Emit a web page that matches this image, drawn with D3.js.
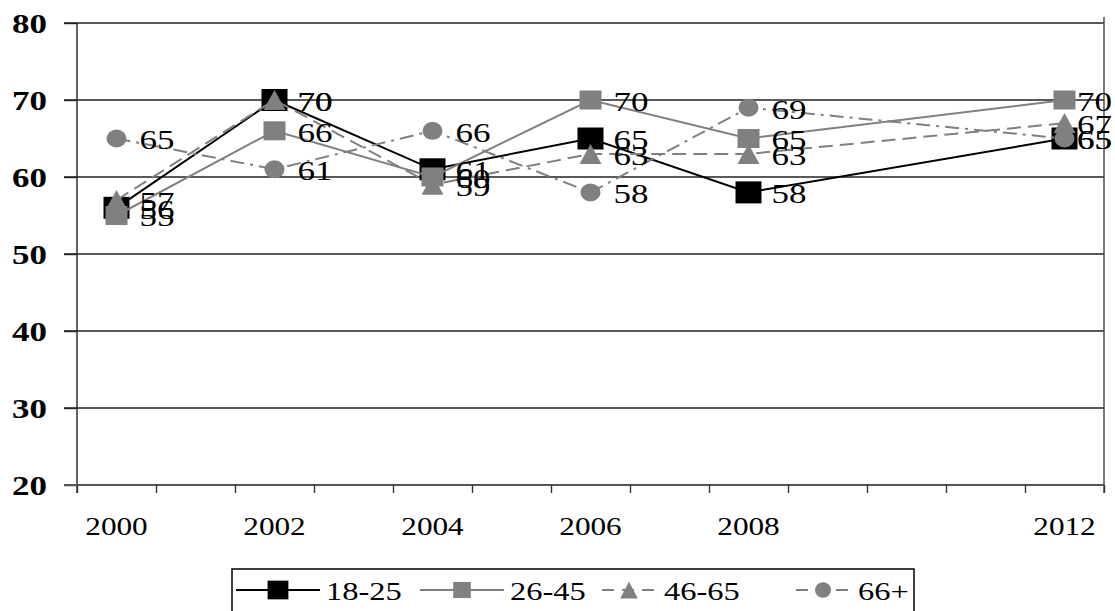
<!DOCTYPE html>
<html>
<head>
<meta charset="utf-8">
<script src="https://cdn.jsdelivr.net/npm/d3@7"></script>
<style>
  html, body { margin: 0; padding: 0; background: #fff; }
  svg { display: block; }
</style>
</head>
<body>
<script>
// data
const years = [2000, 2002, 2004, 2006, 2008, 2012]
const groups = ['18-25', '26-45', '46-65', '66+']
const v1825 = [56, 70, 61, 65, 58, 65]
const v2645 = [55, 66, 60, 70, 65, 70]
const v4665 = [57, 70, 59, 63, 63, 67]
const v66 = [65, 61, 66, 58, 69, 65]
const yTicks = [20, 30, 40, 50, 60, 70, 80]

const width = 1115
const height = 611
const stretch = 1.3 // text in the picture is stretched sideways
const font = '"Liberation Serif", "Times New Roman", serif'
const gray = '#808080'

const series = [
  { name: groups[0], values: v1825, color: '#000', dash: null, marker: 'square', mw: 26, mh: 22 },
  { name: groups[1], values: v2645, color: gray, dash: null, marker: 'square', mw: 22, mh: 19 },
  { name: groups[2], values: v4665, color: gray, dash: '14,7', marker: 'triangle', mw: 22, mh: 20 },
  { name: groups[3], values: v66, color: gray, dash: '14,6,3,6', marker: 'circle', mw: 20, mh: 18 },
]

const x = d3.scaleLinear().domain([1999.5, 2012.5]).range([77, 1104])
const y = d3.scaleLinear().domain([20, 80]).range([485, 23])

const svg = d3.select('body').append('svg')
  .attr('width', width)
  .attr('height', height)

const sText = (g, px, py, txt, opts = {}) => g.append('text')
  .attr('transform', `translate(${px},${py}) scale(${opts.sx || stretch},1)`)
  .attr('text-anchor', opts.anchor || 'start')
  .attr('dy', opts.dy || '0.35em')
  .style('font-family', font)
  .style('font-size', `${opts.size || 26}px`)
  .style('font-weight', opts.weight || 'normal')
  .attr('fill', '#000')
  .text(txt)

// gridlines
const grid = svg.append('g')
grid.selectAll('line')
  .data(yTicks.filter(d => d > 20))
  .join('line')
  .attr('x1', 64)
  .attr('x2', 1104)
  .attr('y1', d => y(d))
  .attr('y2', d => y(d))
  .attr('stroke', '#222')
  .attr('stroke-width', 1.4)

// y axis
const yAxis = svg.append('g')
  .attr('transform', 'translate(77,0)')
  .call(d3.axisLeft(y).tickValues(yTicks).tickSize(13).tickFormat(''))
yAxis.select('.domain').remove()
yAxis.selectAll('.tick line').attr('stroke', '#222').attr('stroke-width', 1.4)
svg.append('line')
  .attr('x1', 77).attr('x2', 77)
  .attr('y1', y(80)).attr('y2', y(20) + 8)
  .attr('stroke', '#222').attr('stroke-width', 1.4)
svg.append('line')
  .attr('x1', 1104).attr('x2', 1104)
  .attr('y1', y(80) - 6).attr('y2', y(20) + 8)
  .attr('stroke', '#444').attr('stroke-width', 1.4)

yTicks.forEach(t => sText(svg, 47, y(t), t, { anchor: 'end', weight: 'bold', size: 28, sx: 1.25 }))

// x axis with marks at year boundaries
const xAxis = svg.append('g')
  .attr('transform', `translate(0,${y(20)})`)
  .call(d3.axisBottom(x).tickValues(d3.range(1999.5, 2013, 1)).tickSize(8).tickFormat(''))
xAxis.select('.domain')
  .attr('d', `M64,0H1104`)
  .attr('stroke', '#555')
  .attr('stroke-width', 2)
xAxis.selectAll('.tick line').attr('stroke', '#333').attr('stroke-width', 1.4)

years.forEach(yr => sText(svg, x(yr), 526, yr, { anchor: 'middle', size: 25, sx: 1.25 }))

// marker drawing
const drawMarker = (g, s, cx, cy, w, h) => {
  if (s.marker === 'square') {
    g.append('rect')
      .attr('x', cx - w / 2).attr('y', cy - h / 2)
      .attr('width', w).attr('height', h)
      .attr('fill', s.color)
  } else if (s.marker === 'triangle') {
    g.append('path')
      .attr('d', `M${cx},${cy - h / 2}L${cx + w / 2},${cy + h / 2}L${cx - w / 2},${cy + h / 2}Z`)
      .attr('fill', s.color)
  } else {
    g.append('ellipse')
      .attr('cx', cx).attr('cy', cy)
      .attr('rx', w / 2).attr('ry', h / 2)
      .attr('fill', s.color)
  }
}

const line = d3.line()
  .x((d, i) => x(years[i]))
  .y(d => y(d))

const plot = svg.append('g')
series.forEach(s => {
  plot.append('path')
    .datum(s.values)
    .attr('d', line)
    .attr('fill', 'none')
    .attr('stroke', s.color)
    .attr('stroke-width', 2)
    .attr('stroke-dasharray', s.dash)
  s.values.forEach((v, i) => drawMarker(plot, s, x(years[i]), y(v), s.mw, s.mh))
})

// data labels, pulled back in when they would run past the picture edge
const labels = svg.append('g')
series.forEach(s => {
  s.values.forEach((v, i) => {
    const t = sText(labels, x(years[i]) + 23, y(v) + 1, v, { size: 28, sx: 1.25 })
    const w = t.node().getComputedTextLength() * 1.25
    const px = Math.min(x(years[i]) + 23, width - 3 - w)
    t.attr('transform', `translate(${px},${y(v) + 1}) scale(1.25,1)`)
  })
})

// legend
const legend = svg.append('g')
legend.append('rect')
  .attr('x', 232).attr('y', 569)
  .attr('width', 682).attr('height', 50)
  .attr('fill', 'none')
  .attr('stroke', '#000')
  .attr('stroke-width', 1.5)

const legendItems = [
  { x0: 236, x1: 320, tx: 326 },
  { x0: 420, x1: 504, tx: 510 },
  { x0: 602, x1: 656, tx: 664 },
  { x0: 796, x1: 850, tx: 858 },
]
series.forEach((s, i) => {
  const it = legendItems[i]
  const ly = 590
  legend.append('line')
    .attr('x1', it.x0).attr('x2', it.x1)
    .attr('y1', ly).attr('y2', ly)
    .attr('stroke', s.color)
    .attr('stroke-width', 2)
    .attr('stroke-dasharray', s.dash ? '12,8' : null)
  drawMarker(legend, s, (it.x0 + it.x1) / 2, ly, s.mw * 0.8, s.mh * 0.85)
  sText(legend, it.tx, ly + 1, s.name, { size: 26, sx: 1.25 })
})
</script>
</body>
</html>
